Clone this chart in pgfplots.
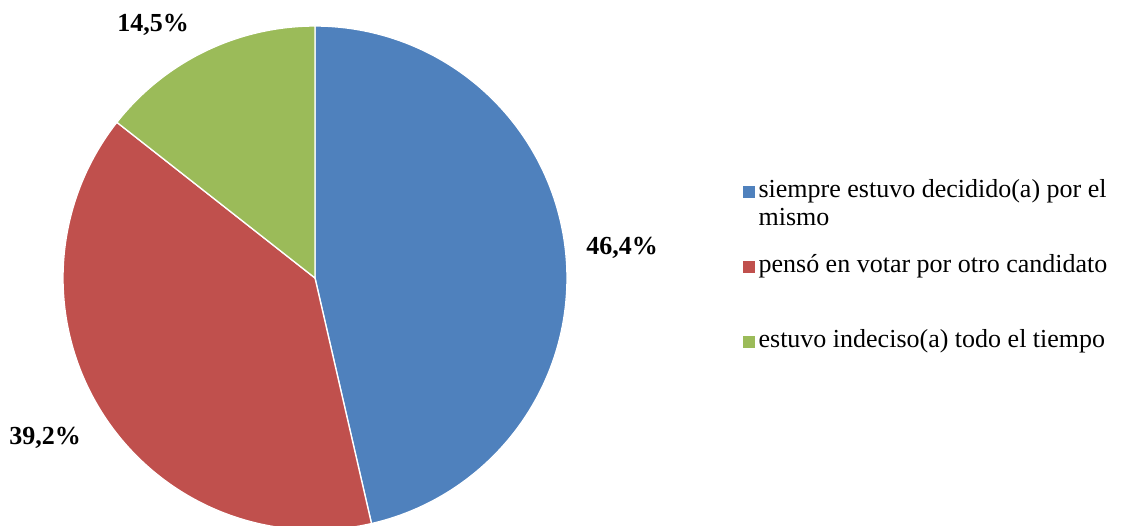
\documentclass[border=0pt]{standalone}
\usepackage{pgfplots}
\pgfplotsset{compat=1.18}
\usepackage{fontspec}
\setmainfont{Liberation Serif}
\definecolor{pieblue}{HTML}{4F81BD}
\definecolor{piered}{HTML}{C0504D}
\definecolor{piegreen}{HTML}{9BBB59}
\begin{document}
\begin{tikzpicture}
\begin{axis}[
  width=842.25pt, height=393.75pt, scale only axis,
  at={(0,0)}, anchor=south west,
  xmin=0, xmax=1123, ymin=0, ymax=525,
  hide axis, clip=true,
  area legend,
  legend image code/.code={\fill[#1] (0pt,-0.5pt) rectangle (10pt,9.8pt);},
  legend cell align=left,
  legend style={at={(axis cs:737,350)}, anchor=north west, draw=none, fill=none,
    font=\fontsize{19.5}{21}\selectfont, row sep=36.25pt,
    cells={anchor=base west},
    nodes={inner xsep=2pt, inner ysep=0pt, text height=15pt, text depth=5pt}},
]
% values: 46.4, 39.2, 14.5 (percent), clockwise from top
\addplot[fill=pieblue, draw=white, line width=1pt, domain={90-46.4*3.6}:90, samples=120, variable=\t]
  ({315+252*cos(\t)}, {247+252*sin(\t)}) -- (axis cs:315,247) -- cycle;
\addlegendentry{\makebox[0pt][l]{\raisebox{-21pt}[0pt][0pt]{mismo}}siempre estuvo decidido(a) por el}
\addplot[fill=piered, draw=white, line width=1pt, domain={90-(46.4+39.2)*3.6}:{90-46.4*3.6}, samples=120, variable=\t]
  ({315+252*cos(\t)}, {247+252*sin(\t)}) -- (axis cs:315,247) -- cycle;
\addlegendentry{pensó en votar por otro candidato}
\addplot[fill=piegreen, draw=white, line width=1pt, domain=-270:{90-(46.4+39.2)*3.6}, samples=60, variable=\t]
  ({315+252*cos(\t)}, {247+252*sin(\t)}) -- (axis cs:315,247) -- cycle;
\addlegendentry{estuvo indeciso(a) todo el tiempo}
\node[font=\fontsize{19.5}{22}\selectfont\bfseries] at (axis cs:622,277) {46,4\%};
\node[font=\fontsize{19.5}{22}\selectfont\bfseries] at (axis cs:45,87) {39,2\%};
\node[font=\fontsize{19.5}{22}\selectfont\bfseries] at (axis cs:153,500) {14,5\%};
\end{axis}
\pgfresetboundingbox
\path (0,0) rectangle (842.25pt,393.75pt);
\end{tikzpicture}
\end{document}
